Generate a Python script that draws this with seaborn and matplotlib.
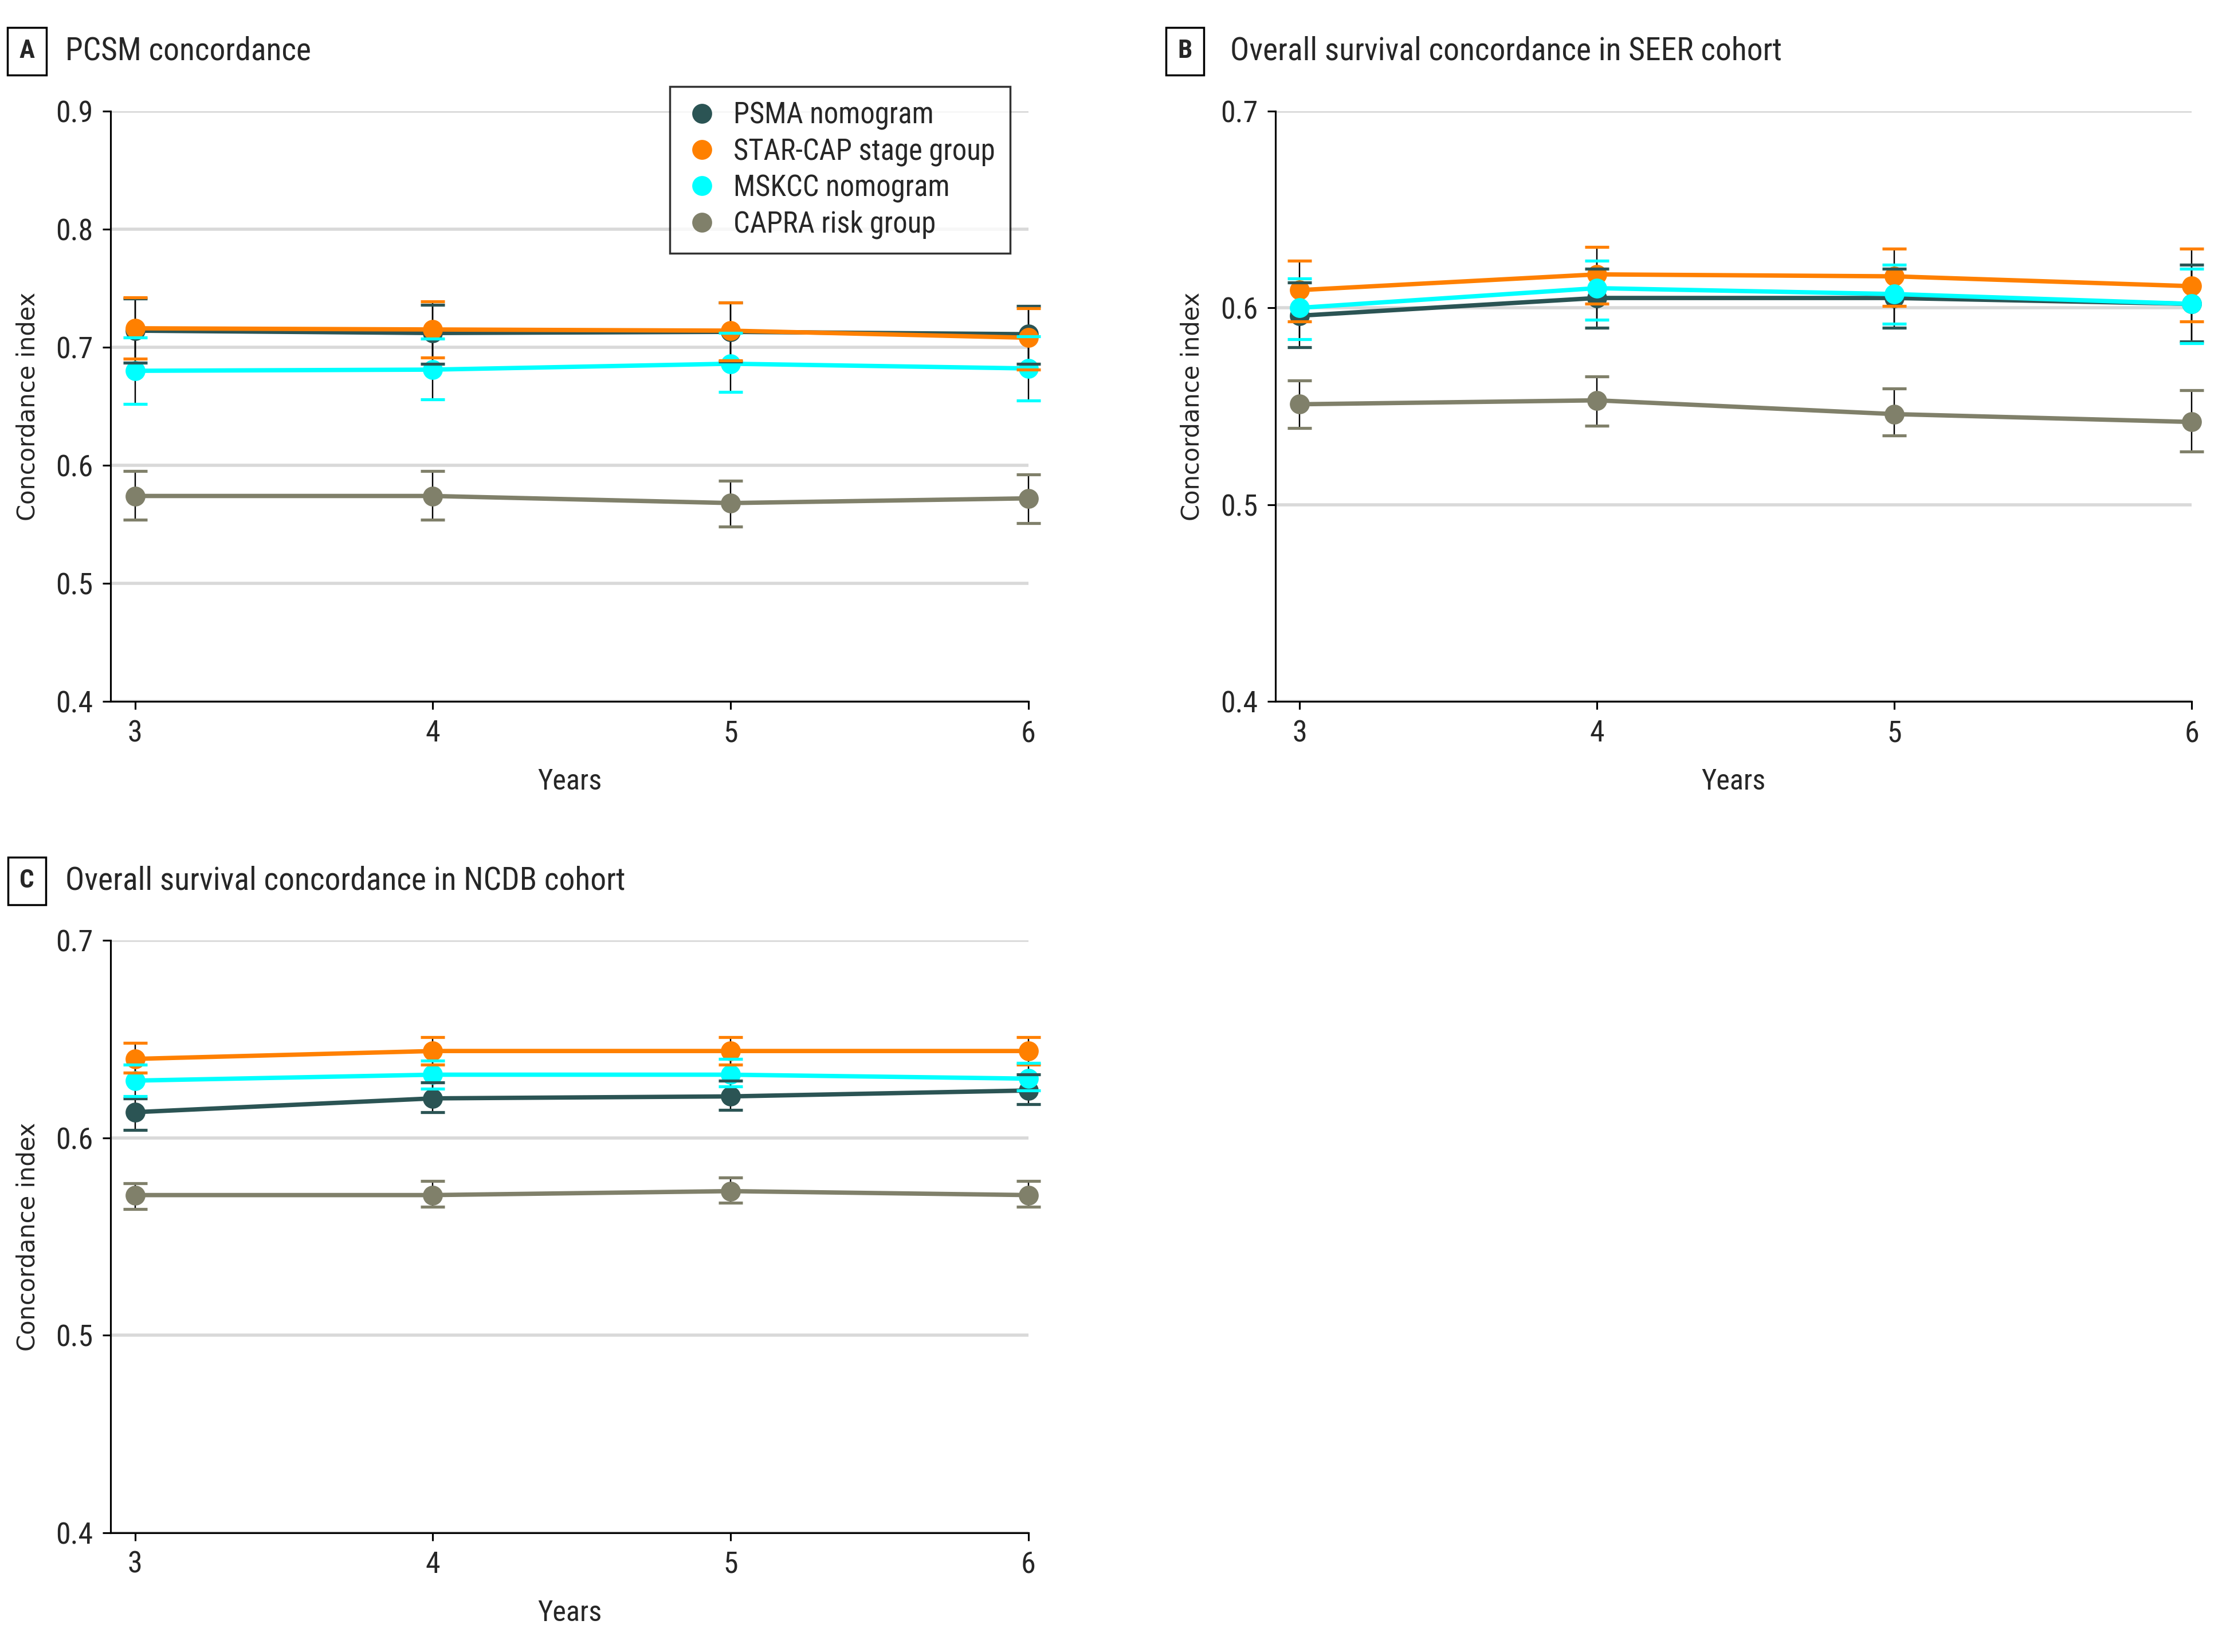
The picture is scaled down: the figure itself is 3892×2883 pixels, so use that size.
import pandas as pd
import matplotlib
matplotlib.use("Agg")
import matplotlib.pyplot as plt
import seaborn as sns
from matplotlib.lines import Line2D
from matplotlib import font_manager

# Daten
years = [3, 4, 5, 6]
models = ["PSMA nomogram", "STAR-CAP stage group", "MSKCC nomogram", "CAPRA risk group"]
colors = ["#2b5454", "#ff8000", "#00ffff", "#80806a"]

# A: PCSM
a_psma = [0.714, 0.712, 0.713, 0.711]
a_psma_lo = [0.687, 0.686, 0.688, 0.686]
a_psma_hi = [0.741, 0.736, 0.738, 0.735]
a_star = [0.716, 0.715, 0.714, 0.708]
a_star_lo = [0.690, 0.691, 0.689, 0.681]
a_star_hi = [0.742, 0.739, 0.738, 0.733]
a_mskcc = [0.680, 0.681, 0.686, 0.682]
a_mskcc_lo = [0.652, 0.656, 0.662, 0.655]
a_mskcc_hi = [0.708, 0.707, 0.712, 0.709]
a_capra = [0.574, 0.574, 0.568, 0.572]
a_capra_lo = [0.554, 0.554, 0.548, 0.551]
a_capra_hi = [0.595, 0.595, 0.587, 0.592]

# B: OS SEER
b_psma = [0.596, 0.605, 0.605, 0.602]
b_psma_lo = [0.580, 0.590, 0.590, 0.583]
b_psma_hi = [0.613, 0.620, 0.620, 0.622]
b_star = [0.609, 0.617, 0.616, 0.611]
b_star_lo = [0.593, 0.602, 0.601, 0.593]
b_star_hi = [0.624, 0.631, 0.630, 0.630]
b_mskcc = [0.600, 0.610, 0.607, 0.602]
b_mskcc_lo = [0.584, 0.594, 0.592, 0.582]
b_mskcc_hi = [0.615, 0.624, 0.622, 0.620]
b_capra = [0.551, 0.553, 0.546, 0.542]
b_capra_lo = [0.539, 0.540, 0.535, 0.527]
b_capra_hi = [0.563, 0.565, 0.559, 0.558]

# C: OS NCDB
c_psma = [0.613, 0.620, 0.621, 0.624]
c_psma_lo = [0.604, 0.613, 0.614, 0.617]
c_psma_hi = [0.620, 0.628, 0.629, 0.632]
c_star = [0.640, 0.644, 0.644, 0.644]
c_star_lo = [0.633, 0.637, 0.637, 0.637]
c_star_hi = [0.648, 0.651, 0.651, 0.651]
c_mskcc = [0.629, 0.632, 0.632, 0.630]
c_mskcc_lo = [0.621, 0.625, 0.626, 0.624]
c_mskcc_hi = [0.637, 0.639, 0.640, 0.638]
c_capra = [0.571, 0.571, 0.573, 0.571]
c_capra_lo = [0.564, 0.565, 0.567, 0.565]
c_capra_hi = [0.577, 0.578, 0.580, 0.578]

titles = ["PCSM concordance",
          "Overall survival concordance in SEER cohort",
          "Overall survival concordance in NCDB cohort"]
letters = ["A", "B", "C"]


def long_table(vals, los, his):
    rows = []
    for m, v, lo, hi in zip(models, vals, los, his):
        for y, a, b, c in zip(years, v, lo, hi):
            rows.append({"Years": y, "model": m, "cindex": a, "lo": b, "hi": c})
    return pd.DataFrame(rows)


df_a = long_table([a_psma, a_star, a_mskcc, a_capra],
                  [a_psma_lo, a_star_lo, a_mskcc_lo, a_capra_lo],
                  [a_psma_hi, a_star_hi, a_mskcc_hi, a_capra_hi])
df_b = long_table([b_psma, b_star, b_mskcc, b_capra],
                  [b_psma_lo, b_star_lo, b_mskcc_lo, b_capra_lo],
                  [b_psma_hi, b_star_hi, b_mskcc_hi, b_capra_hi])
df_c = long_table([c_psma, c_star, c_mskcc, c_capra],
                  [c_psma_lo, c_star_lo, c_mskcc_lo, c_capra_lo],
                  [c_psma_hi, c_star_hi, c_mskcc_hi, c_capra_hi])

sns.set_style("white")
# schmale Schrift, falls vorhanden
installed = {f.name for f in font_manager.fontManager.ttflist}
cond = [f for f in ["Roboto Condensed", "Liberation Sans Narrow", "Open Sans Condensed",
                    "Roboto", "DejaVu Sans"] if f in installed]
plt.rcParams["font.family"] = cond

fig = plt.figure(figsize=(15.568, 11.532), dpi=250)
ax_a = fig.add_axes([0.0497, 0.5754, 0.4114, 0.3574])
ax_b = fig.add_axes([0.5720, 0.5754, 0.4108, 0.3574])
ax_c = fig.add_axes([0.0497, 0.0723, 0.4114, 0.3584])

panels = [(ax_a, df_a, 0.9), (ax_b, df_b, 0.7), (ax_c, df_c, 0.7)]

for ax, df, ytop in panels:
    for i, (m, col) in enumerate(zip(models, colors)):
        sub = df[df["model"] == m]
        eb = ax.errorbar(sub["Years"], sub["cindex"],
                         yerr=[sub["cindex"] - sub["lo"], sub["hi"] - sub["cindex"]],
                         fmt="none", ecolor="black", elinewidth=0.7,
                         capsize=6, capthick=1.5, zorder=1.5 + i * 0.01)
        for cap in eb[1]:
            cap.set_markeredgecolor(col)
            cap.set_markerfacecolor(col)
            cap.set_zorder(6 + i * 0.1)
            cap.set_clip_on(False)
        for ln in eb[2]:
            ln.set_clip_on(False)
    n_before = len(ax.lines)
    sns.lineplot(data=df, x="Years", y="cindex", hue="model", hue_order=models,
                 palette=colors, marker="o", markersize=10, markeredgewidth=0,
                 linewidth=2.2, legend=False, ax=ax)
    for k, ln in enumerate(ax.lines[n_before:]):
        ln.set_clip_on(False)
        ln.set_zorder(3 + k * 0.1)

    ax.set_xlim(2.919, 6)
    ax.set_ylim(0.4, ytop)
    ax.set_xticks(years)
    ax.set_xticklabels([str(y) for y in years])
    yt = [round(0.4 + 0.1 * k, 1) for k in range(int(round((ytop - 0.4) / 0.1)) + 1)]
    ax.set_yticks(yt)
    ax.set_yticklabels([f"{v:.1f}" for v in yt])
    ax.yaxis.grid(True, color="#d9d9d9", linewidth=1.6, zorder=0)
    ax.xaxis.grid(False)
    ax.set_axisbelow(True)
    for s in ["top", "right"]:
        ax.spines[s].set_visible(False)
    for s in ["left", "bottom"]:
        ax.spines[s].set_color("black")
        ax.spines[s].set_linewidth(0.9)
    ax.tick_params(axis="both", direction="out", length=4, width=0.9,
                   color="black", labelsize=15, pad=5, left=True, bottom=True)
    ax.set_xlabel("Years", fontsize=14.5, labelpad=10)
    ax.set_ylabel("Concordance index", fontsize=12, family="DejaVu Sans", labelpad=8)

# Legende in Panel A
handles = [Line2D([], [], marker="o", linestyle="", color=c, markersize=10,
                  markeredgewidth=0) for c in colors]
leg = ax_a.legend(handles, models, loc="upper right", bbox_to_anchor=(0.98, 1.041),
                  borderaxespad=0, frameon=True, fancybox=False, edgecolor="black",
                  fontsize=14.6, handletextpad=0.5, borderpad=0.5, labelspacing=0.25,
                  handlelength=1.2)
leg.get_frame().set_linewidth(1.0)

# Panel-Titel mit Buchstabenbox
title_pos = [(0.0121, 0.0293, 0.969), (0.5313, 0.5517, 0.969), (0.0121, 0.0293, 0.4668)]
for (bx, tx, ty), let, tt in zip(title_pos, letters, titles):
    fig.text(bx, ty, let, ha="center", va="center", fontsize=13, fontweight="bold",
             bbox=dict(boxstyle="square,pad=0.45", facecolor="white", edgecolor="black",
                       linewidth=1.0))
    fig.text(tx, ty, tt, ha="left", va="center", fontsize=16)

fig.savefig("out.png", dpi=250)
